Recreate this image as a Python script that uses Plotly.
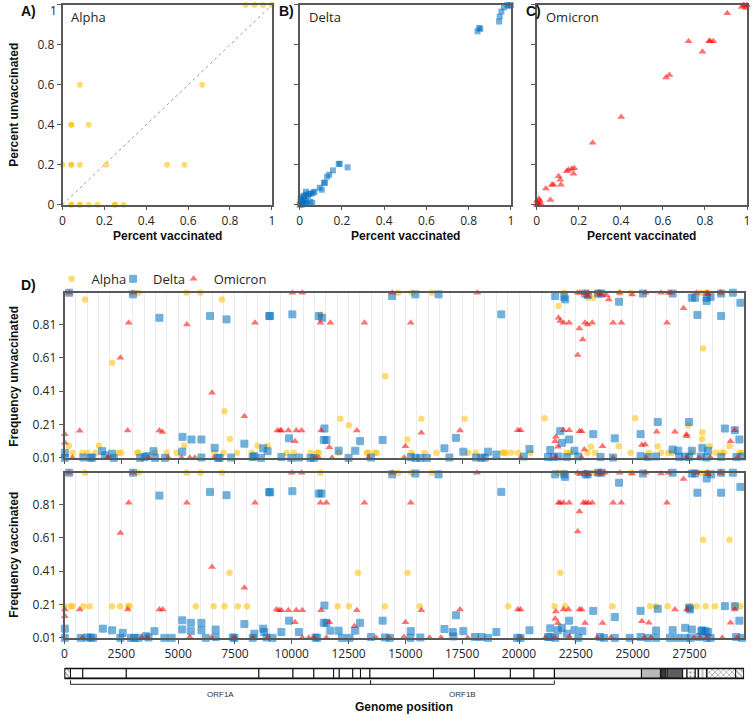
import plotly.graph_objects as go

# ---------------- DATA ----------------
# Panels A-C: (percent vaccinated, percent unvaccinated)
ALPHA_A = [(0.875, 1.0), (0.917, 1.0), (0.958, 1.0), (1.0, 1.0), (0.083, 0.6), (0.667, 0.6),
           (0.042, 0.4), (0.042, 0.4), (0.125, 0.4), (0.0, 0.2), (0.042, 0.2), (0.042, 0.2),
           (0.083, 0.2), (0.208, 0.2), (0.5, 0.2), (0.583, 0.2), (0.042, 0.0), (0.042, 0.0),
           (0.083, 0.0), (0.083, 0.0), (0.125, 0.0), (0.167, 0.0), (0.25, 0.0), (0.25, 0.0),
           (0.292, 0.0)]
DELTA_B = [(0.0, 0.0), (0.005, 0.01), (0.01, 0.0), (0.01, 0.02), (0.015, 0.005), (0.02, 0.025),
           (0.025, 0.01), (0.03, 0.02), (0.035, 0.005), (0.005, 0.03), (0.012, 0.04), (0.02, 0.045),
           (0.03, 0.05), (0.04, 0.045), (0.045, 0.055), (0.055, 0.055), (0.065, 0.06), (0.07, 0.065),
           (0.03, 0.065), (0.05, 0.015), (0.06, 0.01), (0.095, 0.085), (0.105, 0.075), (0.115, 0.11),
           (0.12, 0.11), (0.13, 0.14), (0.14, 0.15), (0.158, 0.172), (0.185, 0.204), (0.19, 0.205),
           (0.227, 0.187), (0.842, 0.868), (0.85, 0.885), (0.855, 0.88), (0.944, 0.917),
           (0.947, 0.942), (0.955, 0.967), (0.967, 0.988), (0.983, 1.0), (0.99, 0.995), (1.0, 1.0)]
OMICRON_C = [(0.984, 1.0), (0.99, 0.995), (1.0, 1.0), (0.975, 0.99), (0.995, 0.985), (0.906, 0.959),
             (0.722, 0.818), (0.819, 0.818), (0.825, 0.82), (0.84, 0.818), (0.788, 0.766),
             (0.615, 0.637), (0.631, 0.649), (0.402, 0.439), (0.266, 0.31), (0.179, 0.183),
             (0.167, 0.18), (0.151, 0.175), (0.143, 0.167), (0.175, 0.155), (0.104, 0.142),
             (0.112, 0.125), (0.115, 0.10), (0.08, 0.10), (0.072, 0.10), (0.044, 0.081),
             (0.065, 0.023), (0.0, 0.0), (0.005, 0.01), (0.01, 0.0), (0.015, 0.02), (0.02, 0.005),
             (0.0, 0.02), (0.01, 0.03), (0.005, 0.0)]

# Panel D: (genome position, frequency)
ALPHA_UNVAC = [(189, 0.083), (349, 0.04), (786, 0.04), (903, 0.96), (1004, 0.04), (1368, 0.04), (1514, 0.083),
               (2096, 0.58), (2387, 0.04), (2502, 0.04), (3187, 0.04), (3260, 1.0), (3260, 0.04), (3987, 0.04),
               (4497, 0.04), (4933, 0.04), (5269, 0.083), (5370, 1.0), (5981, 1.0), (6607, 0.04), (6928, 0.96),
               (7000, 0.04), (7043, 0.29), (7276, 0.123), (7596, 0.04), (8237, 0.04), (8499, 0.083), (8936, 0.081),
               (9779, 0.04), (10098, 0.04), (10827, 0.04), (11118, 0.04), (11190, 0.04), (11263, 0.87), (12063, 0.04),
               (12136, 0.245), (12515, 0.205), (13301, 0.04), (13373, 0.04), (13664, 0.04), (13737, 0.04),
               (14114, 0.50), (14684, 1.0), (15091, 0.12), (15265, 0.04), (15295, 1.0), (15703, 0.245), (15847, 0.04),
               (16167, 1.0), (16356, 0.04), (17608, 0.245), (17768, 0.04), (18103, 0.04), (19266, 0.04), (19339, 0.04),
               (19412, 0.04), (19659, 0.04), (19950, 0.04), (20505, 0.04), (21129, 0.247), (21740, 0.92), (21989, 1.0),
               (22104, 0.04), (22250, 0.04), (23020, 0.04), (23049, 0.97), (23166, 0.077), (23268, 0.97), (23340, 0.04),
               (23414, 1.0), (23631, 1.0), (24389, 0.079), (24433, 1.0), (24913, 1.0), (24913, 0.04), (25116, 0.247),
               (25713, 0.04), (26105, 0.079), (26250, 0.04), (26570, 0.04), (26716, 0.04), (27444, 0.206), (27589, 0.04),
               (27996, 1.0), (28055, 0.123), (28070, 0.163), (28100, 0.666), (28214, 1.0), (28318, 1.0), (28390, 0.079),
               (28650, 0.04), (28898, 1.0), (28898, 0.04), (29015, 0.04), (29263, 0.079), (29699, 0.04), (29816, 0.04)]
DELTA_UNVAC = [(15, 0.04), (15, 0.01), (205, 1.0), (830, 0.012), (1150, 0.01), (1223, 0.012), (1659, 0.05),
               (1776, 0.025), (2096, 0.035), (2169, 0.01), (3012, 0.99), (3332, 0.01), (3522, 0.015), (3623, 0.02),
               (3916, 0.05), (3987, 0.01), (4177, 0.85), (4424, 0.01), (5181, 0.047), (5195, 0.136), (5588, 0.12),
               (6025, 0.12), (6025, 0.012), (6404, 0.86), (6607, 0.07), (6753, 0.01), (6826, 0.01), (7130, 0.84),
               (7334, 0.012), (7916, 0.095), (8281, 0.015), (8353, 0.02), (8644, 0.01), (8744, 0.067), (8936, 0.05),
               (9007, 0.86), (9050, 0.86), (9545, 0.015), (9880, 0.127), (9982, 0.01), (10027, 0.87), (10316, 0.012),
               (10827, 0.01), (10972, 0.01), (11190, 0.86), (11336, 0.85), (11408, 0.117), (11438, 0.186),
               (11525, 0.117), (12063, 0.053), (12500, 0.01), (12791, 0.053), (13009, 0.11), (13489, 0.012),
               (13998, 0.117), (14420, 0.98), (15236, 0.015), (15441, 0.99), (15441, 0.01), (15660, 0.01),
               (15950, 0.01), (16458, 0.99), (16720, 0.067), (16938, 0.012), (17230, 0.13), (17550, 0.047),
               (18103, 0.012), (18350, 0.01), (18496, 0.012), (18642, 0.047), (19004, 0.03), (19222, 0.87),
               (20212, 0.018), (20461, 0.063), (21275, 0.015), (21377, 0.057), (21522, 0.015), (21594, 0.98),
               (21740, 0.018), (21814, 0.17), (21886, 0.1), (21989, 0.975), (22033, 0.96), (22104, 0.015),
               (22207, 0.12), (22439, 0.053), (22613, 0.018), (22904, 0.995), (23020, 0.986), (23268, 0.152),
               (23486, 0.995), (23588, 0.015), (23631, 0.995), (24141, 0.012), (24214, 0.127), (24404, 0.946),
               (25349, 0.152), (25349, 0.02), (25452, 0.995), (25669, 0.015), (26032, 0.018), (26105, 0.225),
               (26760, 0.995), (26760, 0.06), (27008, 0.053), (27052, 0.015), (27314, 0.018), (27488, 0.225),
               (27488, 0.015), (27604, 0.97), (27604, 0.053), (27750, 0.97), (27851, 0.867), (27996, 0.018),
               (28070, 0.07), (28256, 0.97), (28256, 0.95), (28256, 0.012), (28318, 0.053), (28431, 0.975),
               (28898, 0.995), (28898, 0.86), (28898, 0.015), (29059, 0.186), (29409, 1.0), (29496, 0.176),
               (29568, 0.015), (29699, 0.12), (29743, 0.94), (29816, 0.018)]
OMICRON_UNVAC = [(15, 0.152), (15, 0.10), (205, 1.0), (349, 0.01), (669, 0.172), (1877, 0.01), (1951, 0.01),
                 (2459, 0.61), (2780, 0.174), (2825, 0.82), (3012, 1.0), (3697, 0.01), (4177, 0.174), (4309, 0.165),
                 (4570, 0.01), (5151, 0.01), (5384, 0.81), (5515, 0.01), (5734, 0.01), (6490, 0.40), (6578, 0.01),
                 (7916, 0.26), (8382, 0.82), (9371, 0.174), (9487, 0.174), (9545, 0.174), (9851, 0.174), (10027, 1.0),
                 (10142, 0.11), (10200, 0.174), (10434, 0.174), (10464, 1.0), (11016, 0.01), (11190, 0.01),
                 (11263, 0.82), (11292, 0.174), (11656, 0.073), (11700, 0.82), (11772, 0.01), (12864, 0.174),
                 (13198, 0.82), (13373, 0.01), (14420, 1.0), (14943, 0.01), (15003, 0.08), (15236, 0.82),
                 (15703, 0.16), (17404, 0.174), (18170, 1.0), (19950, 0.176), (20068, 0.176), (20068, 0.01),
                 (21594, 0.11), (21594, 0.015), (21623, 0.136), (21711, 0.077), (21740, 0.85), (21814, 0.83),
                 (21959, 0.82), (21959, 0.176), (22207, 0.82), (22207, 0.176), (22583, 1.0), (22583, 0.626),
                 (22657, 0.785), (22657, 0.17), (22686, 1.0), (22759, 0.17), (22759, 0.01), (22802, 0.72),
                 (22876, 0.06), (22904, 1.0), (22904, 0.82), (23020, 0.98), (23020, 0.81), (23049, 1.0),
                 (23224, 0.82), (23515, 1.0), (23588, 0.99), (23675, 0.08), (23850, 0.985), (23952, 0.96),
                 (24141, 0.82), (24141, 0.01), (24433, 1.0), (24505, 0.82), (24984, 0.99), (25407, 0.087),
                 (25553, 0.09), (25566, 1.0), (25595, 0.01), (26061, 0.166), (26250, 1.0), (26512, 0.82),
                 (26585, 1.0), (26687, 1.0), (26862, 0.166), (27240, 0.907), (27372, 0.15), (27372, 0.14),
                 (27386, 0.01), (27808, 1.0), (27925, 0.01), (28285, 1.0), (28318, 0.99), (28431, 0.01),
                 (28869, 1.0), (29307, 0.11), (29496, 0.176), (29598, 0.01)]
ALPHA_VAC = [(0, 0.2), (276, 0.2), (349, 0.2), (830, 0.2), (903, 1.0), (1105, 0.2), (2096, 0.2), (2445, 0.2),
             (2794, 0.2), (2853, 0.2), (3260, 1.0), (5370, 1.0), (5777, 0.2), (5981, 1.0), (6563, 0.2), (6928, 1.0),
             (7043, 0.2), (7262, 0.40), (7625, 0.2), (8033, 0.2), (11263, 1.0), (12020, 0.2), (12515, 0.2),
             (12908, 0.40), (14101, 0.2), (14684, 1.0), (15091, 0.40), (15265, 1.0), (15629, 0.2), (16167, 1.0),
             (19528, 0.2), (21566, 0.2), (21740, 1.0), (21814, 0.40), (21959, 1.0), (22031, 0.2), (23268, 1.0),
             (23414, 1.0), (23631, 1.0), (24112, 0.2), (24913, 1.0), (25770, 0.2), (26032, 0.2), (26542, 0.2),
             (27444, 0.2), (27560, 0.2), (27822, 0.2), (27996, 1.0), (28100, 0.598), (28214, 1.0), (28214, 0.2),
             (28318, 1.0), (28623, 0.2), (28898, 1.0), (29263, 0.598), (29496, 0.2), (29743, 0.2)]
DELTA_VAC = [(15, 0.065), (15, 0.01), (205, 1.0), (713, 0.01), (1004, 0.012), (1150, 0.012), (1252, 0.01),
             (1689, 0.065), (2096, 0.055), (2459, 0.01), (2561, 0.04), (2925, 0.01), (3012, 1.0), (3071, 0.01),
             (3260, 0.01), (3580, 0.02), (3697, 0.012), (3958, 0.05), (4177, 0.863), (4395, 0.01), (4715, 0.01),
             (5181, 0.115), (5181, 0.06), (5559, 0.1), (5559, 0.05), (6025, 0.1), (6025, 0.055), (6214, 0.01),
             (6404, 0.885), (6651, 0.06), (6651, 0.015), (7130, 0.865), (7407, 0.012), (7480, 0.01), (7916, 0.093),
             (8281, 0.01), (8353, 0.035), (8744, 0.065), (8790, 0.045), (8892, 0.012), (9007, 0.883), (9050, 0.883),
             (9153, 0.01), (9545, 0.045), (9880, 0.113), (10027, 0.889), (10316, 0.045), (11044, 0.012),
             (11118, 0.01), (11190, 0.875), (11307, 0.875), (11408, 0.1), (11438, 0.204), (11525, 0.1),
             (11700, 0.053), (12063, 0.053), (12209, 0.01), (12544, 0.01), (12791, 0.053), (13009, 0.1),
             (13489, 0.015), (13998, 0.113), (14101, 0.012), (14319, 0.01), (14420, 0.99), (15222, 0.01),
             (15236, 0.05), (15441, 0.995), (15660, 0.012), (16458, 0.99), (16720, 0.063), (17084, 0.045),
             (17113, 0.018), (17230, 0.145), (17550, 0.05), (18059, 0.015), (18350, 0.015), (18642, 0.01),
             (19004, 0.045), (19222, 0.885), (19919, 0.01), (20068, 0.01), (20461, 0.055), (21273, 0.015),
             (21377, 0.067), (21377, 0.015), (21594, 0.99), (21595, 0.01), (21711, 0.055), (21886, 0.07),
             (21989, 0.99), (22033, 0.975), (22104, 0.035), (22207, 0.113), (22439, 0.056), (22613, 0.01),
             (22788, 0.05), (22933, 0.99), (23020, 0.99), (23268, 0.172), (23486, 1.0), (23560, 0.015),
             (23631, 1.0), (23748, 0.01), (24214, 0.135), (24215, 0.01), (24404, 0.94), (24870, 0.01),
             (25349, 0.172), (25350, 0.015), (25452, 0.995), (25669, 0.01), (26031, 0.01), (26032, 0.054),
             (26105, 0.184), (26642, 0.01), (26760, 1.0), (26760, 0.056), (26978, 0.01), (27314, 0.07),
             (27314, 0.01), (27488, 0.19), (27531, 0.18), (27559, 0.01), (27604, 0.995), (27604, 0.06),
             (27750, 0.995), (27851, 0.88), (27926, 0.015), (28026, 0.05), (28070, 0.055), (28214, 0.05),
             (28256, 0.965), (28257, 0.01), (28318, 0.045), (28432, 0.01), (28461, 0.99), (28898, 1.0),
             (28898, 0.88), (29059, 0.2), (29409, 1.0), (29496, 0.2), (29554, 0.015), (29699, 0.113),
             (29743, 0.915), (29816, 0.01)]
OMICRON_VAC = [(15, 0.18), (15, 0.14), (205, 1.0), (669, 0.18), (786, 0.01), (2459, 0.638), (2780, 0.18),
               (2825, 0.82), (3012, 1.0), (3405, 0.01), (3653, 0.01), (4177, 0.18), (4322, 0.18), (5384, 0.82),
               (5515, 0.015), (6462, 0.01), (6490, 0.435), (7480, 0.012), (7916, 0.31), (8281, 0.01), (8382, 0.82),
               (8936, 0.01), (9327, 0.18), (9444, 0.175), (9545, 0.175), (9851, 0.175), (10000, 1.0), (10142, 0.103),
               (10200, 0.175), (10434, 1.0), (10463, 0.175), (10463, 0.01), (10754, 0.01), (10972, 0.01),
               (11263, 0.82), (11292, 0.175), (11525, 0.82), (11525, 0.01), (11656, 0.103), (12762, 0.08),
               (12864, 0.175), (13198, 0.82), (13708, 0.01), (14290, 0.01), (14420, 1.0), (14931, 0.015),
               (15003, 0.103), (15236, 0.82), (15703, 0.175), (16065, 0.01), (16575, 0.01), (17404, 0.18),
               (17739, 0.01), (18147, 1.0), (19950, 0.18), (20068, 0.18), (20094, 0.01), (21159, 0.01),
               (21594, 0.124), (21595, 0.01), (21623, 0.168), (21711, 0.099), (21740, 0.82), (21814, 0.82),
               (21959, 0.82), (21959, 0.18), (22177, 0.18), (22207, 0.82), (22221, 0.016), (22583, 1.0),
               (22583, 0.648), (22657, 0.767), (22657, 0.18), (22686, 0.99), (22759, 0.18), (22832, 0.82),
               (22904, 1.0), (22904, 0.099), (22933, 0.82), (23049, 0.99), (23049, 0.82), (23224, 0.82),
               (23442, 0.01), (23515, 1.0), (23588, 1.0), (23675, 0.099), (23777, 1.0), (24040, 0.01),
               (24141, 0.82), (24433, 1.0), (24505, 0.82), (24984, 0.995), (25407, 0.11), (25524, 0.01),
               (25566, 1.0), (25713, 0.1), (25812, 0.01), (26250, 0.995), (26512, 0.82), (26585, 1.0),
               (26862, 0.18), (27240, 0.962), (27386, 0.18), (27707, 0.01), (27808, 1.0), (27969, 0.01),
               (28257, 0.01), (28285, 1.0), (28318, 0.99), (28869, 1.0), (28942, 0.01), (29307, 0.1),
               (29496, 0.18), (29597, 0.01)]

GENOME_LENGTH = 29903
D_YTICKS = [0.01, 0.21, 0.41, 0.61, 0.81]
D_YTICKTEXT = ["0.01", "0.21", "0.41", "0.61", "0.81"]
A_YTICKS = [0, 0.2, 0.4, 0.6, 0.8, 1]

# Genome map (SARS-CoV-2 annotation)
GENE_NAMES = ["5'UTR", "nsp1", "nsp2", "nsp3", "nsp4", "nsp5", "nsp6", "nsp7", "nsp8", "nsp9", "nsp10",
              "nsp12", "nsp13", "nsp14", "nsp15", "nsp16", "S", "ORF3a", "E", "M", "ORF6", "ORF7a",
              "ORF7b", "ORF8", "N", "3'UTR"]
GENE_START = [1, 266, 806, 2720, 8555, 10055, 10973, 11843, 12092, 12686, 13025, 13442, 16237, 18040,
              19621, 20659, 21563, 25393, 26245, 26523, 27202, 27394, 27756, 27894, 28274, 29534]
GENE_END = [265, 805, 2719, 8554, 10054, 10972, 11842, 12091, 12685, 13024, 13441, 16236, 18039, 19620,
            20658, 21552, 25384, 26220, 26472, 27191, 27387, 27759, 27887, 28259, 29533, 29903]
GENE_FILL = ["#ffffff"] * 16 + ["#efefef", "#b8b8b8", "#3a3a3a", "#5e5e5e", "#ffffff", "#ffffff",
                               "#ffffff", "#ffffff", "#ffffff", "#ffffff"]
GENE_PATTERN = ["\\"] + [""] * 20 + [".", "|", "|", "x", "\\"]
ORF_NAMES = ["ORF1A", "ORF1B"]
ORF_START = [266, 13468]
ORF_END = [13468, 21555]

# ---------------- STYLE ----------------
W, H = 753, 721
FONT = "Open Sans"
TFONT = "Liberation Sans"
ALPHA_COLOR = "#FFC000"
DELTA_COLOR = "#0070C0"
OMI_COLOR = "#FF0000"
AXIS_COLOR = "#595959"


def dom_x(a, b):
    return [a / W, b / W]


def dom_y(top, bottom):
    return [1 - bottom / H, 1 - top / H]


def unzip(pairs):
    return [p[0] for p in pairs], [p[1] for p in pairs]


fig = go.Figure()

# ---- Panels A-C ----
fig.add_trace(go.Scatter(x=[0, 1], y=[0, 1], mode="lines", xaxis="x", yaxis="y",
                         line=dict(color="#9e9e9e", width=1, dash="dot"), showlegend=False, hoverinfo="skip"))
for pairs, xa, ya, sym, size, col in [
    (ALPHA_A, "x", "y", "circle", 6, ALPHA_COLOR),
    (DELTA_B, "x2", "y2", "square", 6, DELTA_COLOR),
    (OMICRON_C, "x3", "y3", "triangle-up", 7, OMI_COLOR),
]:
    px_, py_ = unzip(pairs)
    fig.add_trace(go.Scatter(x=px_, y=py_, mode="markers", xaxis=xa, yaxis=ya, cliponaxis=False,
                             marker=dict(symbol=sym, size=size, color=col, opacity=0.55, line=dict(width=0)),
                             showlegend=False))

# ---- Panel D ----
series = [
    ("Alpha", ALPHA_UNVAC, ALPHA_VAC, "circle", 6.5, ALPHA_COLOR, 0, "legend"),
    ("Delta", DELTA_UNVAC, DELTA_VAC, "square", 7, DELTA_COLOR, 1, "legend2"),
    ("Omicron", OMICRON_UNVAC, OMICRON_VAC, "triangle-up", 7, OMI_COLOR, 0, "legend3"),
]
for name, unvac, vac, sym, size, col, lw, leg in series:
    for pairs, xa, ya, show in [(unvac, "x4", "y4", True), (vac, "x5", "y5", False)]:
        px_, py_ = unzip(pairs)
        fig.add_trace(go.Scatter(x=px_, y=py_, mode="markers", xaxis=xa, yaxis=ya, name=name,
                                 legendgroup=name, showlegend=show, legend=leg, cliponaxis=False,
                                 marker=dict(symbol=sym, size=size, color=col, opacity=0.55,
                                             line=dict(width=lw, color=col))))

# ---- Genome map ----
lengths = [e - s + 1 for s, e in zip(GENE_START, GENE_END)]
fig.add_trace(go.Bar(x=lengths, base=[s - 1 for s in GENE_START], y=[0.3] * len(lengths), width=1.0,
                     orientation="h", xaxis="x6", yaxis="y6", showlegend=False, hovertext=GENE_NAMES,
                     marker=dict(color=GENE_FILL, line=dict(color="#111111", width=1),
                                 pattern=dict(shape=GENE_PATTERN, fgcolor="#222222", size=4, solidity=0.35))))
fig.add_trace(go.Bar(x=[GENE_END[-1] - GENE_START[0] + 1], base=[GENE_START[0] - 1], y=[0.3], width=1.0,
                     orientation="h", xaxis="x6", yaxis="y6", showlegend=False, hoverinfo="skip",
                     marker=dict(color="rgba(0,0,0,0)", line=dict(color="#111111", width=1.6))))
for s, e in zip(ORF_START, ORF_END):
    fig.add_trace(go.Scatter(x=[s, s, e, e], y=[-0.4, -0.8, -0.8, -0.4], mode="lines", xaxis="x6",
                             yaxis="y6", line=dict(color="#222222", width=1), showlegend=False,
                             hoverinfo="skip"))

# ---------------- LAYOUT ----------------
tickfont = dict(family=FONT, size=12, color="#262626")
frame = dict(showline=True, linecolor=AXIS_COLOR, linewidth=1.5, mirror=True, zeroline=False,
             showgrid=False, ticks="outside", ticklen=4, tickcolor=AXIS_COLOR, tickfont=tickfont)


def legend_at(xpx):
    return dict(orientation="h", x=xpx / W, y=1 - 282 / H, xanchor="left", yanchor="middle",
                font=dict(family=FONT, size=13, color="#262626"), bgcolor="rgba(0,0,0,0)",
                itemwidth=30, tracegroupgap=0)


layout = dict(
    width=W, height=H, margin=dict(l=0, r=0, t=0, b=0),
    paper_bgcolor="white", plot_bgcolor="white", barmode="overlay",
    font=dict(family=FONT, size=12, color="#262626"),
    legend=legend_at(49), legend2=legend_at(111), legend3=legend_at(172),
)

panels = [("", dom_x(60, 271)), ("2", dom_x(299, 512)), ("3", dom_x(538, 750))]
for i, (k, xd) in enumerate(panels):
    layout["xaxis" + k] = dict(domain=xd, range=[0, 1], dtick=0.2, anchor="y" + k, **frame)
    layout["yaxis" + k] = dict(domain=dom_y(5, 207), range=[0, 1], tickvals=A_YTICKS, anchor="x" + k,
                               showticklabels=(i == 0), **frame)

d_x = dom_x(62, 747)
xgrid = dict(range=[0, GENOME_LENGTH], dtick=2500, tick0=0, tickformat="d", showgrid=True,
             gridcolor="#ececec", gridwidth=1,
             minor=dict(dtick=500, tick0=0, showgrid=True, gridcolor="#ececec", gridwidth=1, ticks=""))
frame_nogrid = {k: v for k, v in frame.items() if k != "showgrid"}
layout["xaxis4"] = dict(domain=d_x, anchor="y4", showticklabels=False, **xgrid, **frame_nogrid)
layout["yaxis4"] = dict(domain=dom_y(296, 463), range=[0.01, 1.0], tickvals=D_YTICKS, ticktext=D_YTICKTEXT,
                        anchor="x4", **frame)
layout["xaxis5"] = dict(domain=d_x, anchor="y5", **xgrid, **frame_nogrid)
layout["yaxis5"] = dict(domain=dom_y(478, 645), range=[0.01, 1.0], tickvals=D_YTICKS, ticktext=D_YTICKTEXT,
                        anchor="x5", **frame)
layout["xaxis6"] = dict(domain=d_x, anchor="y6", range=[0, GENOME_LENGTH], visible=False)
layout["yaxis6"] = dict(domain=dom_y(674, 694), anchor="x6", range=[-1, 1], visible=False)

bold = dict(family=TFONT, size=12, color="#111111")
panel_lbl = dict(family=TFONT, size=14, color="#111111")
ann = []


def add_text(text, x, y, font, xanchor="center", yanchor="middle", angle=0, xref="paper"):
    ann.append(dict(text=text, x=x, y=y, xref=xref, yref="paper", showarrow=False, font=font,
                    xanchor=xanchor, yanchor=yanchor, textangle=angle))


# top tick label of panel A's y axis (plotly hides it because it touches the page edge)
add_text(str(A_YTICKS[-1]), 56 / W, 1.0, tickfont, xanchor="right", yanchor="top")
add_text("<b>A)</b>", 16 / W, 1 - 11 / H, panel_lbl, xanchor="left")
add_text("<b>B)</b>", 276 / W, 1 - 11 / H, panel_lbl, xanchor="left")
add_text("<b>C)</b>", 525 / W, 1 - 11 / H, panel_lbl, xanchor="left")
add_text("<b>D)</b>", 16 / W, 1 - 288 / H, panel_lbl, xanchor="left")
name_font = dict(family=FONT, size=13, color="#262626")
add_text("Alpha", 67 / W, 1 - 17 / H, name_font, xanchor="left")
add_text("Delta", 306 / W, 1 - 17 / H, name_font, xanchor="left")
add_text("Omicron", 545 / W, 1 - 17 / H, name_font, xanchor="left")
add_text("<b>Percent unvaccinated</b>", 11 / W, 1 - 106 / H, bold, angle=-90)
for a, b in [(60, 271), (299, 512), (538, 750)]:
    add_text("<b>Percent vaccinated</b>", (a + b) / 2 / W, 1 - 239 / H, bold)
add_text("<b>Frequency unvaccinated</b>", 11 / W, 1 - 380 / H, bold, angle=-90)
add_text("<b>Frequency vaccinated</b>", 11 / W, 1 - 561 / H, bold, angle=-90)
for nm, s, e in zip(ORF_NAMES, ORF_START, ORF_END):
    add_text(nm, (s + e) / 2, 1 - 702 / H, dict(family=TFONT, size=8, color="#333333"), xref="x6")
add_text("<b>Genome position</b>", 404 / W, 1 - 715 / H, bold)
layout["annotations"] = ann

fig.update_layout(**layout)
fig.write_html("out.html")
